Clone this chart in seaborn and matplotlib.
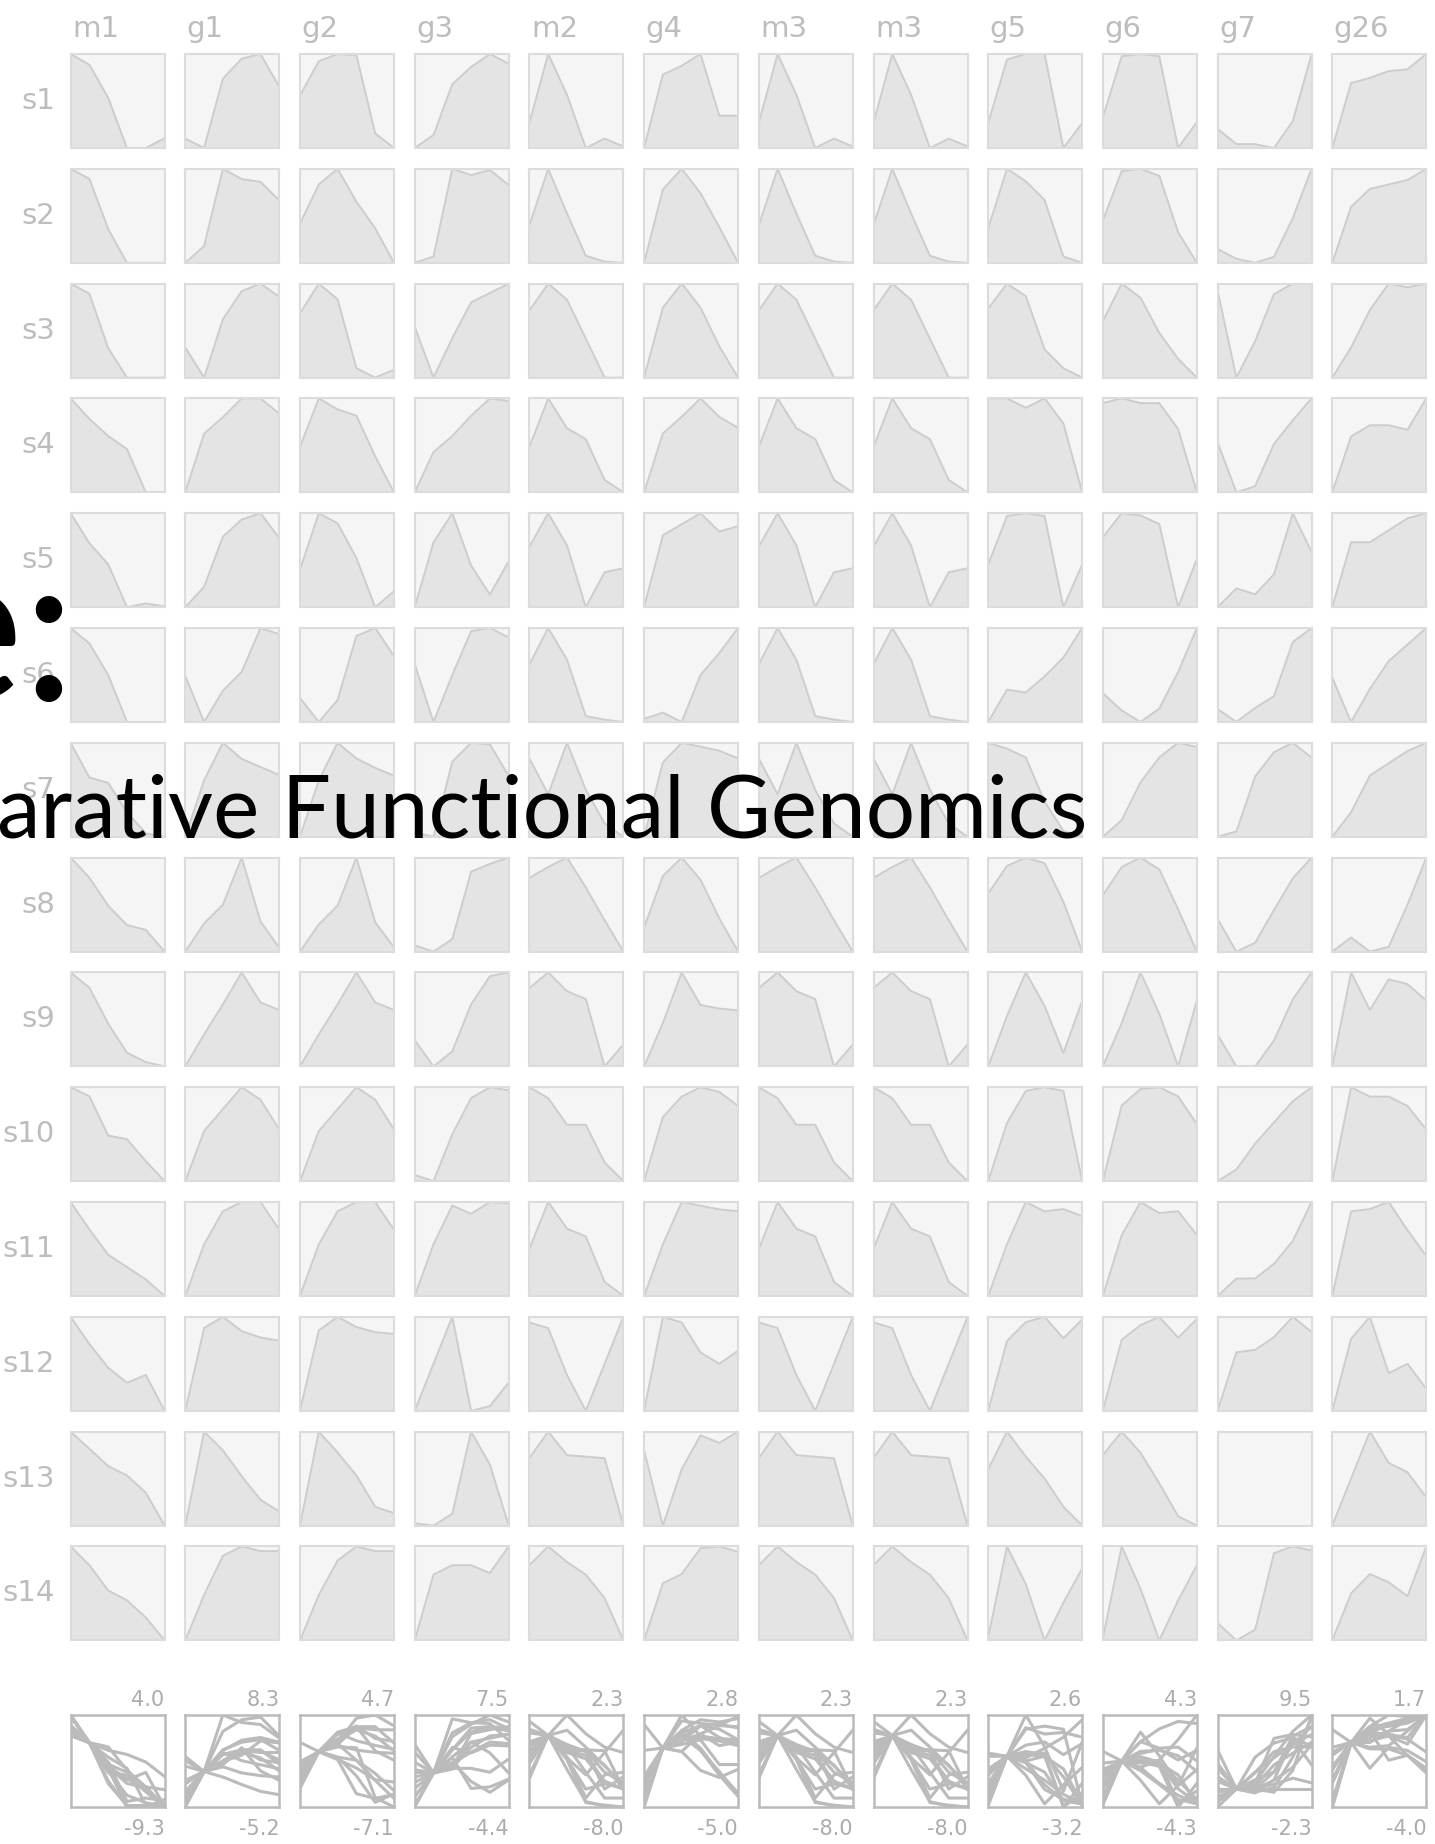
import matplotlib
matplotlib.use("Agg")
import numpy as np
import pandas as pd
import matplotlib.pyplot as plt
import seaborn as sns

sns.set_theme(style="white")
plt.rcParams["font.family"] = ["DejaVu Sans"]

# ---------------------------------------------------------------------------
# Expression profiles: log-ratio over six time points, relative to point 1
# ---------------------------------------------------------------------------
columns = ["m1", "g1", "g2", "g3", "m2", "g4", "m3", "m3", "g5", "g6", "g7", "g26"]
samples = ["s1", "s2", "s3", "s4", "s5", "s6", "s7",
           "s8", "s9", "s10", "s11", "s12", "s13", "s14"]
time_points = [0, 1, 2, 3, 4, 5]

m1 = [
    [1.2, 0, -3.7, -9.3, -9.3, -8.2],
    [1.1, 0, -5.5, -9.2, -9.2, -9.2],
    [1.1, 0, -5.9, -9.1, -9.1, -9.1],
    [2.5, 0, -2.1, -3.7, -9.0, -9.0],
    [4.0, 0, -2.8, -8.5, -8.0, -8.4],
    [1.8, 0, -3.7, -9.2, -9.2, -9.2],
    [4.0, 0, -0.6, -4.0, -6.4, -6.8],
    [2.5, 0, -3.5, -5.9, -6.5, -9.2],
    [1.8, 0, -4.2, -7.6, -8.7, -9.2],
    [1.0, 0, -4.3, -4.7, -7.1, -9.3],
    [3.8, 0, -3.5, -5.2, -6.9, -9.2],
    [3.8, 0, -3.3, -5.4, -4.3, -9.3],
    [1.1, 0, -1.1, -1.7, -2.8, -4.9],
    [2.3, 0, -3.1, -4.3, -6.4, -9.2],
]
g1 = [
    [0.8, 0, 5.9, 7.6, 8.0, 5.2],
    [-1.8, 0, 8.3, 7.2, 6.9, 4.9],
    [1.6, 0, 3.1, 4.6, 5.0, 4.3],
    [-5.0, 0, 1.4, 3.0, 3.0, 1.7],
    [-1.3, 0, 3.2, 4.3, 4.7, 3.1],
    [2.2, 0, 1.5, 2.4, 4.5, 4.2],
    [-4.2, 0, 2.8, 1.6, 1.0, 0.4],
    [-1.5, 0, 1.0, 3.5, 0.1, -1.3],
    [-1.7, 0, 1.6, 3.3, 1.7, 1.3],
    [-3.2, 0, 1.4, 2.8, 2.0, 0.1],
    [-3.9, 0, 2.5, 3.2, 3.2, 1.1],
    [-5.2, 0, 0.7, -0.2, -0.6, -0.8],
    [-4.0, 0, -0.8, -1.9, -2.9, -3.4],
    [-2.9, 0, 2.5, 3.1, 2.8, 2.8],
]
g2 = [
    [-2.8, 0, 0.6, 0.5, -5.9, -7.1],
    [-2.5, 0, 1.0, -1.1, -2.8, -5.0],
    [-1.9, 0, -1.0, -5.4, -6.0, -5.5],
    [-3.1, 0, -0.7, -1.1, -3.7, -6.0],
    [-3.9, 0, -0.7, -3.1, -6.5, -5.4],
    [1.2, 0, 1.1, 4.3, 4.7, 3.3],
    [-3.6, 0, 2.4, 1.4, 0.8, 0.3],
    [-1.3, 0, 0.9, 3.2, 0.1, -1.1],
    [-1.7, 0, 1.6, 3.3, 1.7, 1.3],
    [-3.2, 0, 1.4, 2.8, 2.0, 0.1],
    [-3.9, 0, 2.5, 3.2, 3.2, 1.1],
    [-4.7, 0, 0.8, 0.2, -0.1, -0.2],
    [-4.5, 0, -1.0, -2.1, -3.6, -3.9],
    [-2.9, 0, 2.2, 3.1, 2.8, 2.8],
]
g3 = [
    [-1.2, 0, 4.7, 6.3, 7.5, 6.6],
    [-0.5, 0, 7.0, 6.5, 6.9, 5.7],
    [2.7, 0, 2.1, 4.0, 4.5, 5.0],
    [-3.0, 0, 1.2, 2.7, 4.0, 3.8],
    [-3.1, 0, 1.4, -1.1, -2.5, -0.9],
    [3.7, 0, 3.0, 5.8, 6.0, 5.4],
    [0.3, 0, 5.2, 6.5, 6.4, 4.2],
    [0.4, 0, 0.8, 5.1, 5.6, 6.0],
    [1.4, 0, 0.8, 3.3, 4.8, 5.0],
    [0.4, 0, 3.0, 5.3, 6.0, 5.8],
    [-4.4, 0, 3.3, 2.6, 3.6, 3.5],
    [-2.0, 0, 2.0, -2.0, -1.8, -0.8],
    [0.1, 0, 0.5, 4.0, 2.6, 0.0],
    [-4.2, 0, 0.6, 0.6, 0.1, 1.8],
]
m2 = [
    [-4.4, 0, -2.6, -6.0, -5.4, -5.9],
    [-4.8, 0, -3.8, -7.4, -7.9, -8.0],
    [-2.0, 0, -1.2, -4.1, -7.0, -7.0],
    [-3.1, 0, -1.9, -2.6, -5.2, -6.0],
    [-2.5, 0, -2.4, -7.0, -4.4, -4.1],
    [-3.1, 0, -2.7, -7.5, -7.8, -8.0],
    [1.6, 0, 2.3, 0.2, -1.3, -1.9],
    [-0.7, 0, 0.6, -1.3, -3.4, -5.4],
    [-1.0, 0, -1.2, -1.7, -6.0, -4.6],
    [0.7, 0, -1.7, -1.7, -4.1, -5.3],
    [-3.0, 0, -1.7, -2.2, -5.1, -6.0],
    [0.3, 0, -2.5, -4.4, -1.9, 0.6],
    [-1.7, 0, -1.5, -1.6, -1.7, -6.0],
    [-1.2, 0, -1.0, -1.8, -3.3, -6.0],
]
g4 = [
    [-2.5, 0, 0.3, 0.7, -1.4, -1.4],
    [-3.9, 0, 1.1, -0.2, -2.0, -3.9],
    [-3.8, 0, 1.3, 0.0, -2.1, -3.8],
    [-3.2, 0, 0.9, 1.9, 0.9, 0.3],
    [-3.9, 0, 0.6, 1.2, 0.2, 0.5],
    [-0.2, 0, -0.3, 1.2, 1.9, 2.7],
    [-3.8, 0, 1.0, 0.8, 0.6, 0.2],
    [-2.8, 0, 1.0, -0.2, -2.3, -4.1],
    [-2.4, 0, 2.8, 1.0, 0.8, 0.7],
    [-4.1, 0, 1.3, 1.9, 1.6, 0.7],
    [-2.8, 0, 2.3, 2.1, 1.9, 1.8],
    [-5.0, 0, -0.3, -1.9, -2.5, -1.8],
    [2.0, 0, 1.5, 2.4, 2.2, 2.5],
    [-3.1, 0, 0.5, 1.9, 2.0, 1.7],
]
m3_a = [
    [-4.4, 0, -2.6, -6.0, -5.4, -5.9],
    [-4.8, 0, -3.8, -7.4, -7.9, -8.0],
    [-2.0, 0, -1.2, -4.1, -7.0, -7.0],
    [-3.1, 0, -1.9, -2.6, -5.2, -6.0],
    [-2.5, 0, -2.4, -7.0, -4.4, -4.1],
    [-3.1, 0, -2.7, -7.5, -7.8, -8.0],
    [1.6, 0, 2.3, 0.2, -1.3, -1.9],
    [-0.7, 0, 0.6, -1.3, -3.4, -5.4],
    [-1.0, 0, -1.2, -1.7, -6.0, -4.6],
    [0.7, 0, -1.7, -1.7, -4.1, -5.3],
    [-3.0, 0, -1.7, -2.2, -5.1, -6.0],
    [0.3, 0, -2.5, -4.4, -1.9, 0.6],
    [-1.7, 0, -1.5, -1.6, -1.7, -6.0],
    [-1.2, 0, -1.0, -1.8, -3.3, -6.0],
]
m3_b = [
    [-4.4, 0, -2.6, -6.0, -5.4, -5.9],
    [-4.8, 0, -3.8, -7.4, -7.9, -8.0],
    [-2.0, 0, -1.2, -4.1, -7.0, -7.0],
    [-3.1, 0, -1.9, -2.6, -5.2, -6.0],
    [-2.5, 0, -2.4, -7.0, -4.4, -4.1],
    [-3.1, 0, -2.7, -7.5, -7.8, -8.0],
    [1.6, 0, 2.3, 0.2, -1.3, -1.9],
    [-0.7, 0, 0.6, -1.3, -3.4, -5.4],
    [-1.0, 0, -1.2, -1.7, -6.0, -4.6],
    [0.7, 0, -1.7, -1.7, -4.1, -5.3],
    [-3.0, 0, -1.7, -2.2, -5.1, -6.0],
    [0.3, 0, -2.5, -4.4, -1.9, 0.6],
    [-1.7, 0, -1.5, -1.6, -1.7, -6.0],
    [-1.2, 0, -1.0, -1.8, -3.3, -6.0],
]
g5 = [
    [-2.3, 0, 0.2, 0.2, -3.2, -2.3],
    [-1.9, 0, -0.4, -1.0, -2.8, -3.0],
    [-0.8, 0, -0.4, -2.1, -2.7, -3.0],
    [0.0, 0, -0.3, 0.0, -0.8, -3.0],
    [-1.7, 0, 0.1, 0.0, -3.2, -1.7],
    [-1.2, 0, -0.1, 0.5, 1.2, 2.3],
    [0.2, 0, -0.3, -1.8, -2.8, -3.0],
    [-1.0, 0, 0.3, 0.1, -1.3, -3.1],
    [-3.0, 0, 2.6, 0.6, -2.2, 0.9],
    [-3.1, 0, 1.7, 1.9, 1.7, -3.1],
    [-2.2, 0, 1.8, 1.4, 1.5, 1.2],
    [-2.6, 0, 0.7, 0.9, 0.1, 0.8],
    [-1.2, 0, -0.8, -1.5, -2.4, -3.0],
    [-2.9, 0, -1.2, -3.0, -1.8, -0.7],
]
g6 = [
    [-2.6, 0, 0.1, 0.0, -3.9, -2.8],
    [-2.1, 0, 0.1, -0.2, -2.6, -3.9],
    [-1.6, 0, -0.6, -2.1, -3.2, -4.0],
    [-0.2, 0, -0.2, -0.2, -1.3, -4.0],
    [-1.1, 0, -0.1, -0.5, -4.3, -2.1],
    [0.9, 0, -0.6, 0.1, 2.0, 4.3],
    [-0.8, 0, 1.8, 3.0, 3.7, 3.5],
    [-1.2, 0, 0.4, -0.1, -1.8, -3.6],
    [-2.3, 0, 2.7, 0.5, -2.3, 1.2],
    [-4.1, 0, 0.9, 1.0, 0.5, -1.0],
    [-3.3, 0, 1.8, 1.2, 1.3, 0.0],
    [-3.4, 0, 0.7, 1.1, 0.1, 1.0],
    [-1.0, 0, -0.9, -2.2, -3.6, -4.0],
    [-3.9, 0, -1.8, -4.0, -2.3, -0.8],
]
g7 = [
    [1.6, 0, 0.0, -0.4, 2.4, 9.4],
    [1.0, 0, -0.4, 0.2, 4.1, 9.1],
    [5.0, 0, 2.1, 4.8, 5.4, 5.4],
    [3.2, 0, 0.4, 3.1, 4.6, 6.0],
    [-1.6, 0, -0.5, 1.2, 6.4, 3.1],
    [1.1, 0, 1.2, 2.2, 6.8, 8.0],
    [-0.4, 0, 4.1, 5.9, 6.6, 5.5],
    [3.3, 0, 0.9, 4.2, 7.4, 9.5],
    [2.7, 0, 0.0, 2.2, 5.7, 8.0],
    [-1.0, 0, 2.2, 4.0, 5.8, 7.0],
    [-1.3, 0, 0.0, 1.1, 2.8, 5.7],
    [-2.3, 0, 0.1, 0.6, 1.4, 0.8],
    [0.0, 0, 0.0, 0.0, 0.0, 0.0],
    [1.3, 0, 0.8, 6.5, 7.0, 6.7],
]
g26 = [
    [-3.8, 0, 0.3, 0.7, 0.8, 1.7],
    [-2.5, 0, 0.8, 1.0, 1.2, 1.7],
    [-0.8, 0, 1.0, 1.7, 1.6, 1.7],
    [-2.5, 0, 0.5, 0.5, 0.3, 1.7],
    [-3.8, 0, 0.0, 0.7, 1.4, 1.7],
    [0.8, 0, 0.6, 1.1, 1.4, 1.7],
    [-0.6, 0, 0.9, 1.2, 1.5, 1.7],
    [-0.3, 0, -0.3, -0.2, 0.7, 1.7],
    [-4.0, 0, -1.6, -0.3, -0.5, -1.2],
    [-4.0, 0, -0.4, -0.4, -0.8, -1.8],
    [-3.6, 0, 0.1, 0.4, -0.8, -1.9],
    [-2.3, 0, 0.7, -1.1, -0.8, -1.6],
    [-1.5, 0, 1.5, 0.5, 0.2, -0.6],
    [-1.7, 0, 0.7, 0.4, -0.1, 1.7],
]
profiles = [m1, g1, g2, g3, m2, g4, m3_a, m3_b, g5, g6, g7, g26]

records = []
for ci, (gene, rows) in enumerate(zip(columns, profiles)):
    for sample, row in zip(samples, rows):
        for t, v in zip(time_points, row):
            records.append({"col": ci, "gene": gene, "sample": sample,
                            "t": t, "value": v})
df = pd.DataFrame(records)

# ---------------------------------------------------------------------------
# Figure layout (pixel based)
# ---------------------------------------------------------------------------
W, H = 1435, 1844
fig = plt.figure(figsize=(W / 100, H / 100), dpi=100)
fig.patch.set_facecolor("white")


def px_axes(x, y, w, h):
    return fig.add_axes([x / W, 1 - (y + h) / H, w / W, h / H])


X0, Y0 = 70.6, 54.0
PX, PY = 114.7, 114.8
BOX = 94.0
OV_Y, OV_H = 1715.0, 92.0

BG = "#f5f5f5"
FILL = "#e4e4e4"
LINE = "#cdcdcd"
EDGE = "#dcdcdc"
LABEL = "#bdbdbd"
OV = "#bbbbbb"
OV_TXT = "#acacac"

# small multiples: each profile scaled to its own range
for ci in range(len(columns)):
    for si, sample in enumerate(samples):
        x = X0 + ci * PX
        y = Y0 + si * PY
        ax = px_axes(x, y, BOX, BOX)
        ax.set_facecolor(BG)
        sub = df[(df["col"] == ci) & (df["sample"] == sample)]
        lo, hi = sub["value"].min(), sub["value"].max()
        if hi > lo:
            ax.fill_between(sub["t"], sub["value"], lo, color=FILL, lw=0)
            sns.lineplot(data=sub, x="t", y="value", estimator=None,
                         color=LINE, lw=1.4, ax=ax, legend=False)
            ax.set_ylim(lo, hi)
        ax.set_xlim(0, 5)
        ax.set(xticks=[], yticks=[], xlabel="", ylabel="")
        for sp in ax.spines.values():
            sp.set_color(EDGE)
            sp.set_linewidth(1.5)

# column headers
for ci, gene in enumerate(columns):
    fig.text((X0 + ci * PX + 1.5) / W, 1 - 37 / H, gene, fontsize=21,
             color=LABEL, ha="left", va="baseline")

# row labels
for si, sample in enumerate(samples):
    fig.text(55 / W, 1 - (Y0 + si * PY + BOX / 2) / H, sample, fontsize=21,
             color=LABEL, ha="right", va="center")

# overlay row: all samples of one gene on a shared scale
for ci, gene in enumerate(columns):
    x = X0 + ci * PX
    ax = px_axes(x, OV_Y, BOX, OV_H)
    sub = df[df["col"] == ci]
    lo, hi = sub["value"].min(), sub["value"].max()
    sns.lineplot(data=sub, x="t", y="value", units="sample", estimator=None,
                 color=OV, lw=2.2, ax=ax, legend=False)
    ax.set_xlim(0, 5)
    ax.set_ylim(lo, hi)
    ax.set_facecolor("white")
    ax.set(xticks=[], yticks=[], xlabel="", ylabel="")
    for sp in ax.spines.values():
        sp.set_color(OV)
        sp.set_linewidth(1.8)
    fig.text((x + BOX) / W, 1 - 1700 / H, f"{hi:.1f}", fontsize=15,
             color=OV_TXT, ha="right", va="center")
    fig.text((x + BOX) / W, 1 - 1829 / H, f"{lo:.1f}", fontsize=15,
             color=OV_TXT, ha="right", va="center")

# slide title fragments lying over the grid
fig.text(76 / W, 1 - 700 / H, "e:", fontsize=152, family=["Lato", "DejaVu Sans"],
         color="black", ha="right", va="baseline", zorder=10)
title = fig.text(-3 / W, 1 - 838 / H, "arative Functional Genomics",
                 fontsize=64, family=["Lato", "DejaVu Sans"], color="black",
                 ha="left", va="baseline", zorder=10)
fig.canvas.draw()
bb = title.get_window_extent()
title.set_fontsize(64 * 1091 / bb.width)

fig.savefig("out.png", dpi=100, facecolor="white")
